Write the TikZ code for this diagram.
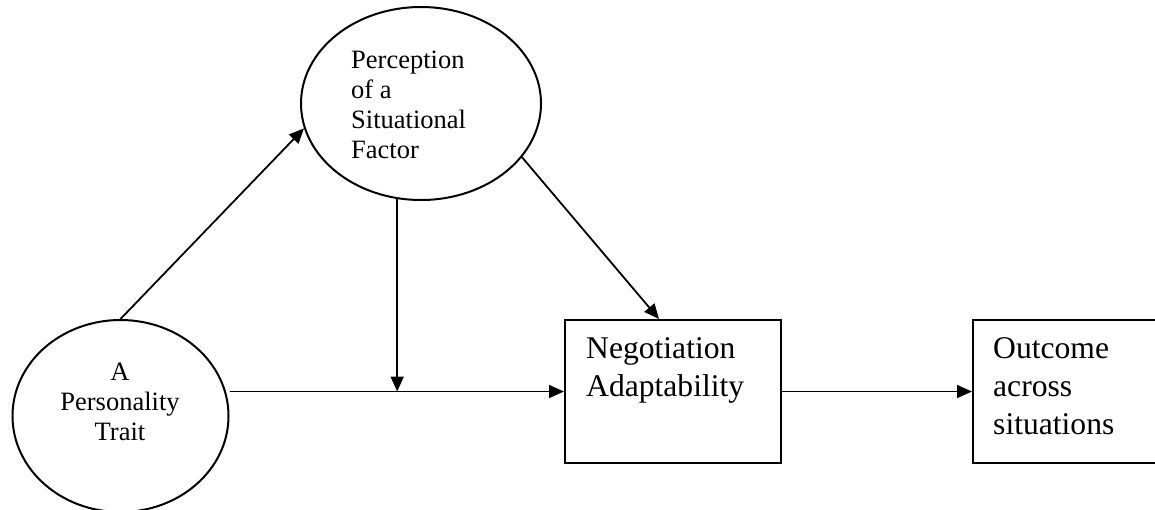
\documentclass[tikz,border=0pt]{standalone}
\usepackage{fontspec}
\setmainfont{Liberation Serif}
\usetikzlibrary{arrows.meta,shapes.geometric,calc}
\begin{document}
\begin{tikzpicture}[x=1pt,y=-1pt,
  shapeline/.style={draw=black,line width=2pt},
  oval/.style={ellipse,shapeline,inner sep=0pt},
  box/.style={rectangle,shapeline,inner sep=0pt},
  arr/.style={line width=1.8pt,-{Triangle[length=15pt,width=13pt]}},
  small/.style={font=\fontsize{26.5}{30}\selectfont,inner sep=0pt},
  big/.style={font=\fontsize{31.6}{38}\selectfont,inner sep=0pt}]
\clip (0,0) rectangle (1155,509);
\node[oval,minimum width=240pt,minimum height=193pt] (pf) at (421,103.5) {};
\node[oval,minimum width=216pt,minimum height=192pt] (pt) at (120.5,416) {};
\node[box,minimum width=216pt,minimum height=143pt] (na) at (673,391.5) {};
\node[box,minimum width=260pt,minimum height=143pt] (oc) at (1103,391.5) {};
\node[small,align=left,anchor=base west] (pft) at (351,158) {Perception\\of a\\Situational\\Factor};
\node[small,align=center,anchor=base] (ptt) at (120,440) {A\\Personality\\Trait};
\node[big,align=left,anchor=base west] (nat) at (586,396) {Negotiation\\Adaptability};
\node[big,align=left,anchor=base west] (oct) at (993,434) {Outcome\\across\\situations};
\draw[arr] (pt.north) -- (pf.192);
\coordinate (j) at (pf.256 |- na.west);
\draw[arr] (pf.256) -- (j);
\draw[arr] (pt.east |- na.west) -- (na.west);
\coordinate (nt) at ($(na.north)+(-14,0)$);
\draw[arr] (pf.332) -- (nt);
\draw[arr] (na.east) -- (oc.west);
\end{tikzpicture}
\end{document}
